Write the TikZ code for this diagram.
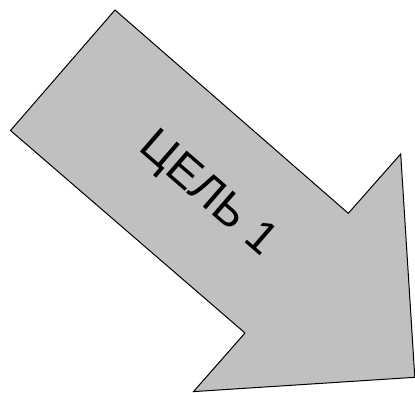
\documentclass[tikz,border=0pt]{standalone}
\usepackage{fontspec}
\setmainfont{Liberation Sans}
\begin{document}
\begin{tikzpicture}[x=1pt,y=-1pt,
  arrowshape/.style={fill={rgb,255:red,192;green,192;blue,192},draw=black,line width=1pt,line join=miter},
  label/.style={font=\fontsize{46}{46}\selectfont,rotate=-40.9,inner sep=0pt}]
\useasboundingbox (0,0) rectangle (415,392);
\coordinate (A) at (115,10);
\coordinate (B) at (348.3,213.3);
\coordinate (C) at (400.7,154);
\coordinate (D) at (414.8,377.3);
\coordinate (E) at (193.5,391.6);
\coordinate (F) at (245,333);
\coordinate (G) at (10.5,130.5);
\draw[arrowshape] (A) -- (B) -- (C) -- (D) -- (E) -- (F) -- (G) -- cycle;
\node[label] (t) at (207,195) {ЦЕЛЬ 1};
\end{tikzpicture}
\end{document}
